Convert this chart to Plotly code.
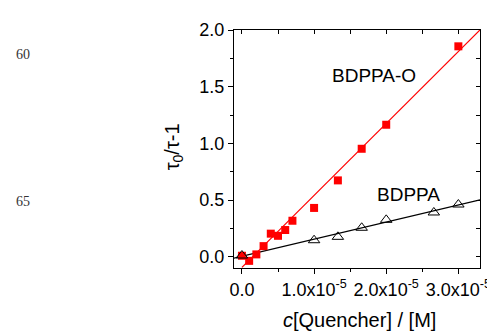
import plotly.graph_objects as go

# --- data ---
c_bdppa_o = [0.0, 0.1e-5, 0.2e-5, 0.3e-5, 0.4e-5, 0.5e-5, 0.6e-5, 0.7e-5, 1.0e-5, 1.33e-5, 1.66e-5, 2.0e-5, 3.0e-5]
tau_bdppa_o = [0.008, -0.037, 0.02, 0.093, 0.203, 0.184, 0.235, 0.317, 0.43, 0.673, 0.952, 1.164, 1.856]

c_bdppa = [0.0, 1.0e-5, 1.33e-5, 1.66e-5, 2.0e-5, 2.66e-5, 3.0e-5]
tau_bdppa = [0.01, 0.145, 0.175, 0.255, 0.325, 0.39, 0.46]

# linear fits (slope, intercept) and x-extent of fitted lines
fit_o = (6.35e4, -0.095)
fit_o_x = [0.0, 3.3e-5]
fit_b = (1.51e4, 0.003)
fit_b_x = [-1.1e-6, 3.3e-5]

x_ticks = [0.0, 1.0e-5, 2.0e-5, 3.0e-5]
x_ticktext = ["0.0", "1.0x10<sup>-5</sup>", "2.0x10<sup>-5</sup>", "3.0x10<sup>-5</sup>"]
x_range = [-1.1e-6, 3.3e-5]
y_range = [-0.1, 2.0]

FONT = "Liberation Sans, Arial, sans-serif"

fig = go.Figure()

fo_y = [fit_o[0] * x + fit_o[1] for x in fit_o_x]
fb_y = [fit_b[0] * x + fit_b[1] for x in fit_b_x]

fig.add_trace(go.Scatter(x=fit_o_x, y=fo_y, mode="lines",
                         line=dict(color="#ff0000", width=1.2), showlegend=False))
fig.add_trace(go.Scatter(x=fit_b_x, y=fb_y, mode="lines",
                         line=dict(color="#000000", width=1.2), showlegend=False))
fig.add_trace(go.Scatter(x=c_bdppa_o, y=tau_bdppa_o, mode="markers",
                         marker=dict(symbol="square", size=8, color="#ff0000",
                                     line=dict(width=0)), showlegend=False))
fig.add_trace(go.Scatter(x=c_bdppa, y=tau_bdppa, mode="markers",
                         marker=dict(symbol="triangle-up-open", size=10, color="#000000",
                                     line=dict(width=1, color="#000000")), showlegend=False))
# dummy trace to anchor the mirrored axes
fig.add_trace(go.Scatter(x=[None], y=[None], xaxis="x2", yaxis="y2",
                         mode="markers", showlegend=False, hoverinfo="skip"))

axis_font = dict(family=FONT, size=18, color="#000000")

fig.update_layout(
    width=495, height=331,
    margin=dict(l=226, r=18, t=13, b=71),
    paper_bgcolor="white", plot_bgcolor="white",
    showlegend=False,
    xaxis=dict(range=x_range, tickmode="array", tickvals=x_ticks, ticktext=x_ticktext,
               ticks="outside", ticklen=5, tickwidth=1, tickcolor="black",
               showline=True, linecolor="black", linewidth=1, mirror=True,
               showgrid=False, zeroline=False, tickfont=axis_font,
               minor=dict(dtick=5e-6, tick0=0, ticks="outside", ticklen=3, tickcolor="black", showgrid=False)),
    yaxis=dict(range=y_range, tickmode="linear", tick0=0, dtick=0.5, tickformat=".1f",
               ticks="outside", ticklen=5, tickwidth=1, tickcolor="black",
               showline=True, linecolor="black", linewidth=1, mirror=True,
               showgrid=False, zeroline=False, tickfont=axis_font,
               minor=dict(dtick=0.25, tick0=0, ticks="outside", ticklen=3, tickcolor="black", showgrid=False)),
    xaxis2=dict(range=x_range, overlaying="x", side="top", anchor="y2",
                tickmode="linear", tick0=0, dtick=5e-6,
                ticks="inside", ticklen=4, tickcolor="black", showticklabels=False,
                showline=False, showgrid=False, zeroline=False),
    yaxis2=dict(range=y_range, overlaying="y", side="right", anchor="x2",
                tickmode="linear", tick0=0, dtick=0.25,
                ticks="inside", ticklen=4, tickcolor="black", showticklabels=False,
                showline=False, showgrid=False, zeroline=False),
)

annotations = [
    dict(text="<i>c</i>[Quencher] / [M]", xref="paper", yref="paper", x=0.51, y=-0.218,
         xanchor="center", yanchor="middle", showarrow=False,
         font=dict(family=FONT, size=20, color="black")),
    dict(text="τ<sub>0</sub>/τ-1", xref="paper", yref="paper", x=-0.245, y=0.51,
         xanchor="center", yanchor="middle", showarrow=False, textangle=-90,
         font=dict(family=FONT, size=20, color="black")),
    dict(text="BDPPA-O", xref="x", yref="y", x=1.83e-5, y=1.597,
         xanchor="center", yanchor="middle", showarrow=False,
         font=dict(family=FONT, size=19, color="black")),
    dict(text="BDPPA", xref="x", yref="y", x=2.31e-5, y=0.546,
         xanchor="center", yanchor="middle", showarrow=False,
         font=dict(family=FONT, size=19, color="black")),
    dict(text="60", xref="paper", yref="paper", x=-0.857, y=0.898,
         xanchor="center", yanchor="middle", showarrow=False,
         font=dict(family="Liberation Serif, Times New Roman, serif", size=14, color="#333333")),
    dict(text="65", xref="paper", yref="paper", x=-0.857, y=0.279,
         xanchor="center", yanchor="middle", showarrow=False,
         font=dict(family="Liberation Serif, Times New Roman, serif", size=14, color="#333333")),
]
fig.update_layout(annotations=annotations)

fig.write_html("out.html")
